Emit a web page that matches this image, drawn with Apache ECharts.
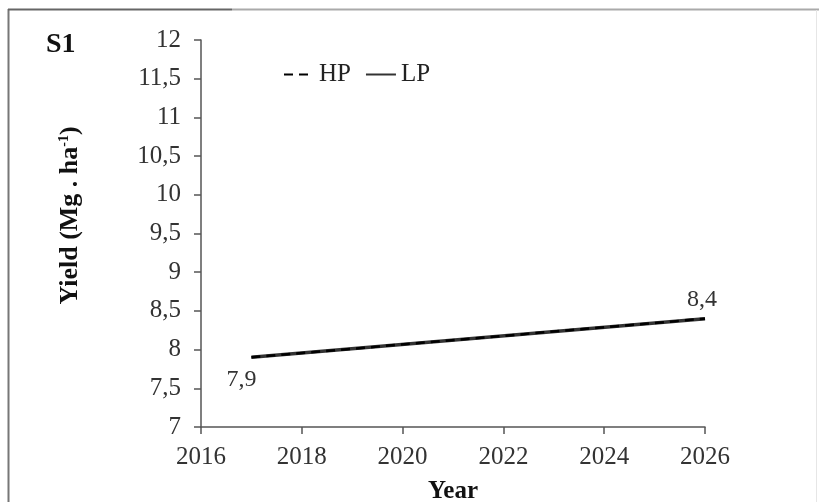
<!DOCTYPE html>
<html>
<head>
<meta charset="utf-8">
<script src="https://cdn.jsdelivr.net/npm/echarts@6/dist/echarts.min.js"></script>
<style>
  html, body { margin: 0; padding: 0; background: #fff; }
  #chart { width: 819px; height: 502px; }
</style>
</head>
<body>
<div id="chart"></div>
<script>
// Projected yield, scenario S1
const years = [2017, 2026];
const hpYield = [7.9, 8.4];
const lpYield = [7.9, 8.4];
const seriesNames = ['HP', 'LP'];
const panelTitle = 'S1';

const serif = '"Liberation Serif", "Times New Roman", serif';
const decimalComma = v => String(v).replace('.', ',');

const chart = echarts.init(document.getElementById('chart'), null, { renderer: 'canvas' });

// label placement relative to each LP point
const lpLabelOffsets = [[-10, 22], [-3, -19]];

chart.setOption({
  animation: false,
  backgroundColor: '#fff',
  title: {
    text: panelTitle,
    left: 41, top: 26,
    textStyle: { fontFamily: serif, fontWeight: 'bold', fontSize: 28, color: '#111' }
  },
  legend: {
    left: 278, top: 57,
    itemWidth: 30, itemHeight: 14, itemGap: 14,
    itemStyle: { opacity: 0 },
    textStyle: { fontFamily: serif, fontSize: 25, color: '#222' },
    data: seriesNames
  },
  grid: { left: 201, top: 40, right: 114, bottom: 75, containLabel: false, outerBoundsMode: 'none' },
  xAxis: {
    type: 'value',
    min: 2016, max: 2026, interval: 2,
    name: 'Year',
    nameLocation: 'middle',
    nameGap: 52,
    nameTextStyle: { fontFamily: serif, fontWeight: 'bold', fontSize: 25, color: '#111' },
    axisLine: { lineStyle: { color: '#555', width: 1.5 } },
    axisTick: { show: true, length: 7, lineStyle: { color: '#555', width: 1.5 } },
    axisLabel: { margin: 18, fontFamily: serif, fontSize: 25, color: '#333', formatter: v => String(v) },
    splitLine: { show: false }
  },
  yAxis: {
    type: 'value',
    min: 7, max: 12, interval: 0.5,
    name: '{b|Yield (Mg . ha}{s|-1}{b|)}',
    nameLocation: 'middle',
    nameGap: 118,
    nameRotate: 90,
    nameTextStyle: {
      padding: [0, 0, 0, 36],
      rich: {
        b: { fontFamily: serif, fontWeight: 'bold', fontSize: 26, color: '#111' },
        s: { fontFamily: serif, fontWeight: 'bold', fontSize: 14, color: '#111', verticalAlign: 'top', padding: [0, 0, 12, 0] }
      }
    },
    axisLine: { show: true, lineStyle: { color: '#555', width: 1.5 } },
    axisTick: { show: true, length: 7, lineStyle: { color: '#555', width: 1.5 } },
    axisLabel: { margin: 20, fontFamily: serif, fontSize: 25, color: '#333', formatter: decimalComma },
    splitLine: { show: false }
  },
  series: [
    {
      name: 'LP',
      type: 'line',
      showSymbol: true,
      symbol: 'circle',
      symbolSize: 0.1,
      lineStyle: { color: '#333', width: 3.5, type: 'solid' },
      itemStyle: { color: '#333' },
      data: years.map((y, i) => ({
        value: [y, lpYield[i]],
        label: {
          show: true,
          position: 'inside',
          offset: lpLabelOffsets[i],
          formatter: p => decimalComma(p.value[1]),
          fontFamily: serif, fontSize: 24, color: '#333'
        }
      })),
      z: 2
    },
    {
      name: 'HP',
      type: 'line',
      showSymbol: false,
      symbol: 'none',
      lineStyle: { color: '#000', width: 2.5, type: [9, 6] },
      itemStyle: { color: '#000' },
      data: years.map((y, i) => [y, hpYield[i]]),
      z: 3
    }
  ],
  graphic: [
    // panel frame
    { type: 'line', silent: true, shape: { x1: 8.5, y1: 9, x2: 8.5, y2: 502 }, style: { stroke: '#777', lineWidth: 2 } },
    { type: 'line', silent: true, shape: { x1: 8, y1: 9.5, x2: 232, y2: 9.5 }, style: { stroke: '#666', lineWidth: 2 } },
    { type: 'line', silent: true, shape: { x1: 232, y1: 9.5, x2: 819, y2: 9.5 }, style: { stroke: '#aaa', lineWidth: 2 } },
    { type: 'line', silent: true, shape: { x1: 816.5, y1: 10, x2: 816.5, y2: 502 }, style: { stroke: '#e6e6e6', lineWidth: 1 } }
  ]
});
</script>
</body>
</html>
